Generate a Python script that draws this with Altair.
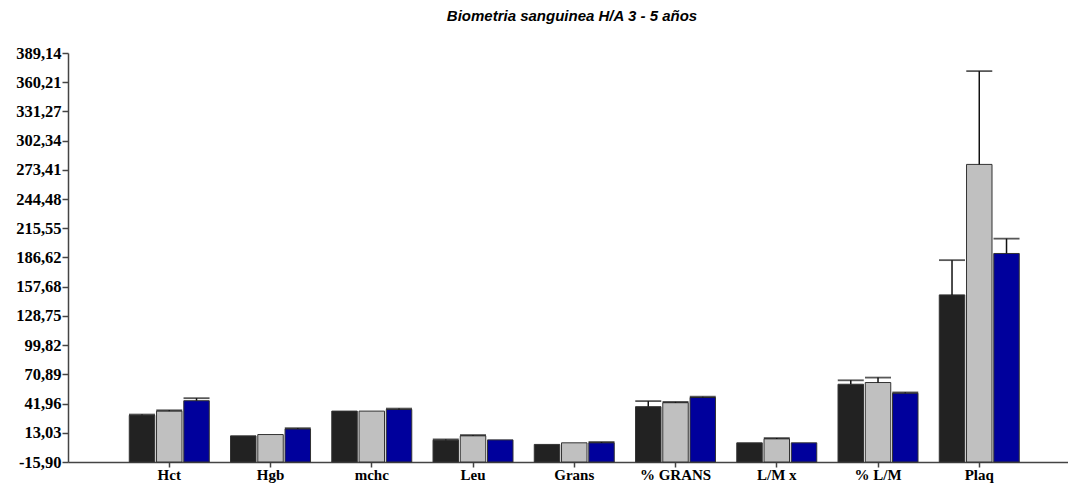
import altair as alt
import pandas as pd

categories = ["Hct", "Hgb", "mchc", "Leu", "Grans", "% GRANS", "L/M  x", "% L/M", "Plaq"]
series = ["G1", "G2", "G3"]
values_g1 = [30.3, 10.0, 34.5, 5.7, 1.5, 38.9, 3.1, 61.1, 149.6]
values_g2 = [34.5, 11.3, 34.5, 10.0, 3.1, 42.8, 7.0, 62.8, 278.8]
values_g3 = [44.8, 16.8, 36.2, 6.0, 3.1, 48.0, 3.1, 52.2, 190.6]
err_g1 = [0.8, 0.0, 0.0, 0.8, 0.0, 5.5, 0.0, 3.9, 34.4]
err_g2 = [0.8, 0.0, 0.0, 0.8, 0.0, 0.8, 0.8, 4.9, 92.4]
err_g3 = [2.5, 0.8, 0.8, 0.0, 0.8, 0.8, 0.0, 0.8, 14.7]
y_ticks = [-15.90, 13.03, 41.96, 70.89, 99.82, 128.75, 157.68, 186.62,
           215.55, 244.48, 273.41, 302.34, 331.27, 360.21, 389.14]
colors = ["#222222", "#c0c0c0", "#00009c"]

rows = []
for s, vals, errs in zip(series, [values_g1, values_g2, values_g3], [err_g1, err_g2, err_g3]):
    for c, v, e in zip(categories, vals, errs):
        rows.append({"cat": c, "ser": s, "value": v, "top": v + e, "err": e})
df = pd.DataFrame(rows)

x_enc = alt.X("cat:N", sort=categories, title=None,
              scale=alt.Scale(paddingInner=0.21, paddingOuter=0.5433, align=0.557),
              axis=alt.Axis(labelAngle=0, labelFont="Liberation Serif", labelFontWeight="bold",
                            labelFontSize=15, labelColor="#000000", labelPadding=0,
                            tickSize=5, tickColor="#444444", domainColor="#444444",
                            domainWidth=1.5, tickWidth=1.5, grid=False, labelOverlap=False))
xo_enc = alt.XOffset("ser:N", sort=series, scale=alt.Scale(paddingInner=0.065))
y_scale = alt.Scale(domain=[-15.90, 389.14], nice=False, zero=False)

bars = alt.Chart(df).mark_bar(stroke="#333333", strokeWidth=1).encode(
    x=x_enc,
    xOffset=xo_enc,
    y=alt.Y("value:Q", scale=y_scale, title=None,
            axis=alt.Axis(values=y_ticks, tickCount=30,
                          labelExpr="replace(replace(format(datum.value, '.2f'), '.', ','), '\u2212', '-')",
                          labelFont="Liberation Serif", labelFontWeight="bold", labelFontSize=16.5,
                          labelColor="#000000", tickSize=6, tickColor="#444444",
                          domainColor="#444444", domainWidth=1.5, tickWidth=1.5,
                          grid=False, labelPadding=1, labelOverlap=False)),
    y2=alt.datum(-15.90),
    color=alt.Color("ser:N", sort=series, scale=alt.Scale(domain=series, range=colors), legend=None),
)

errs_df = df[df["err"] > 0]
rules = alt.Chart(errs_df).mark_rule(color="#111111", strokeWidth=1.5).encode(
    x=alt.X("cat:N", sort=categories),
    xOffset=xo_enc,
    y=alt.Y("value:Q", scale=y_scale),
    y2="top:Q",
)
caps = alt.Chart(errs_df).mark_tick(orient="horizontal", size=26, thickness=1.8, color="#111111").encode(
    x=alt.X("cat:N", sort=categories),
    xOffset=xo_enc,
    y=alt.Y("top:Q", scale=y_scale),
)

chart = alt.layer(bars, rules, caps).properties(
    width=1000, height=409,
    autosize=alt.AutoSizeParams(type="none"),
    padding={"left": 60, "top": 45, "right": 0, "bottom": 21},
    title=alt.TitleParams("Biometria sanguinea H/A 3 - 5 años", font="Liberation Sans",
                          fontStyle="italic", fontWeight="bold", fontSize=15,
                          color="#000000", anchor="middle", offset=21, dx=4),
).configure_view(stroke=None)

chart.save("out.html", embed_options={"renderer": "svg", "actions": False})
